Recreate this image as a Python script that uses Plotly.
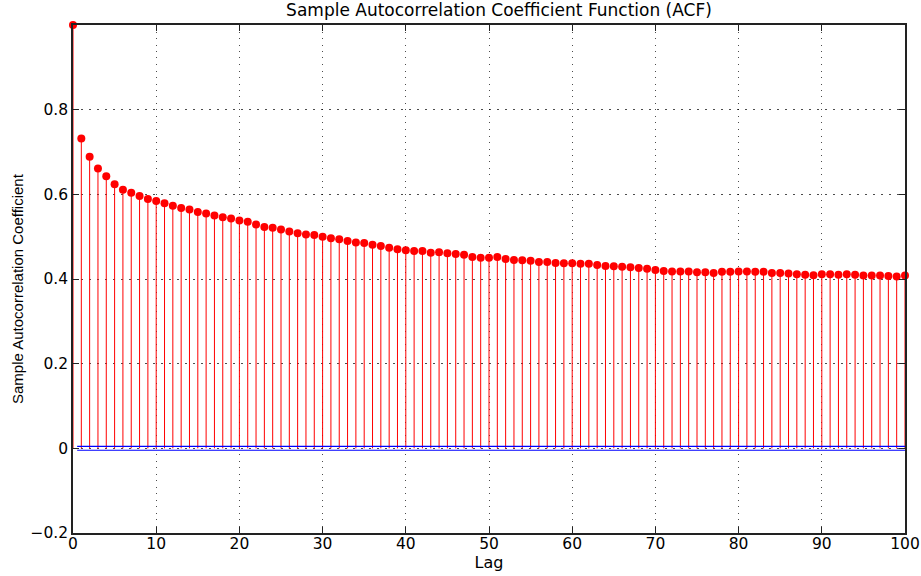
import plotly.graph_objects as go

lags = list(range(0, 101))
acf = [
    1.000, 0.732, 0.689, 0.661, 0.643, 0.624, 0.611, 0.604, 0.596, 0.589,
    0.584, 0.579, 0.573, 0.568, 0.564, 0.558, 0.555, 0.550, 0.546, 0.543,
    0.538, 0.535, 0.529, 0.523, 0.521, 0.517, 0.512, 0.508, 0.505, 0.504,
    0.500, 0.496, 0.494, 0.490, 0.486, 0.485, 0.481, 0.478, 0.474, 0.470,
    0.468, 0.466, 0.466, 0.462, 0.463, 0.461, 0.459, 0.457, 0.452, 0.450,
    0.450, 0.452, 0.447, 0.445, 0.444, 0.443, 0.440, 0.440, 0.438, 0.437,
    0.437, 0.436, 0.436, 0.433, 0.431, 0.430, 0.429, 0.428, 0.426, 0.424,
    0.421, 0.419, 0.418, 0.418, 0.418, 0.416, 0.416, 0.414, 0.417, 0.417,
    0.418, 0.418, 0.417, 0.417, 0.414, 0.414, 0.413, 0.411, 0.410, 0.409,
    0.411, 0.411, 0.410, 0.411, 0.410, 0.408, 0.408, 0.408, 0.407, 0.406,
    0.408,
]
bound_x = [0.5, 100]
upper_bound = 0.0045
lower_bound = -0.0045

x_ticks = [0, 10, 20, 30, 40, 50, 60, 70, 80, 90, 100]
y_ticks = [-0.2, 0, 0.2, 0.4, 0.6, 0.8]
y_tick_text = ["\u22120.2", "0", "0.2", "0.4", "0.6", "0.8"]

# stems built from data
stem_x, stem_y = [], []
for l, v in zip(lags, acf):
    stem_x += [l, l, None]
    stem_y += [0, v, None]

fig = go.Figure()
fig.add_trace(go.Scatter(x=stem_x, y=stem_y, mode="lines",
                         line=dict(color="#ff0000", width=1), hoverinfo="skip",
                         showlegend=False))
fig.add_trace(go.Scatter(x=lags, y=acf, mode="markers",
                         marker=dict(color="#ff0000", size=8, line=dict(width=0)),
                         cliponaxis=False, showlegend=False))
fig.add_trace(go.Scatter(x=bound_x, y=[upper_bound] * 2, mode="lines",
                         line=dict(color="#0000ff", width=1.2), showlegend=False))
fig.add_trace(go.Scatter(x=bound_x, y=[lower_bound] * 2, mode="lines",
                         line=dict(color="#0000ff", width=1.2), showlegend=False))

TICKFONT = dict(family="DejaVu Sans, Liberation Sans, sans-serif", size=15.5, color="black")
axis_common = dict(
    showline=True, linecolor="#222222", linewidth=1.5, mirror="ticks",
    ticks="inside", ticklen=6, tickcolor="#222222", tickwidth=1,
    showgrid=True, gridcolor="rgba(0,0,0,0.7)", gridwidth=1,
    zeroline=False, automargin=False,
    tickfont=TICKFONT,
)

fig.update_layout(
    width=921, height=576,
    paper_bgcolor="white", plot_bgcolor="white",
    margin=dict(l=73, r=16, t=25, b=43, autoexpand=False),
    title=dict(text="Sample Autocorrelation Coefficient Function (ACF)",
               x=0.512, xref="paper", xanchor="center",
               yref="container", y=1 - 10 / 576, yanchor="middle",
               font=dict(family="DejaVu Sans, sans-serif", size=17, color="black")),
    xaxis=dict(range=[0, 100], tickvals=x_ticks, griddash="1px,5.5px",
               ticklabelstandoff=-4,
               title=dict(text="Lag", standoff=0,
                          font=dict(family="DejaVu Sans, sans-serif", size=16, color="black")),
               **axis_common),
    yaxis=dict(range=[-0.2, 1], tickvals=y_ticks, ticktext=y_tick_text,
               griddash="1.5px,6.5px",
               **axis_common),
    annotations=[dict(text="Sample Autocorrelation Coefficient", textangle=-90,
                      xref="paper", yref="paper",
                      x=(17 - 73) / 832, y=(533 - 289) / 508,
                      xanchor="center", yanchor="middle", showarrow=False,
                      font=dict(family="Liberation Sans, Arial, sans-serif", size=15, color="black"))],
    showlegend=False,
)

fig.write_html("out.html", config={"displayModeBar": False},
               post_script="document.body.style.margin='0px';document.body.style.overflow='hidden';")
